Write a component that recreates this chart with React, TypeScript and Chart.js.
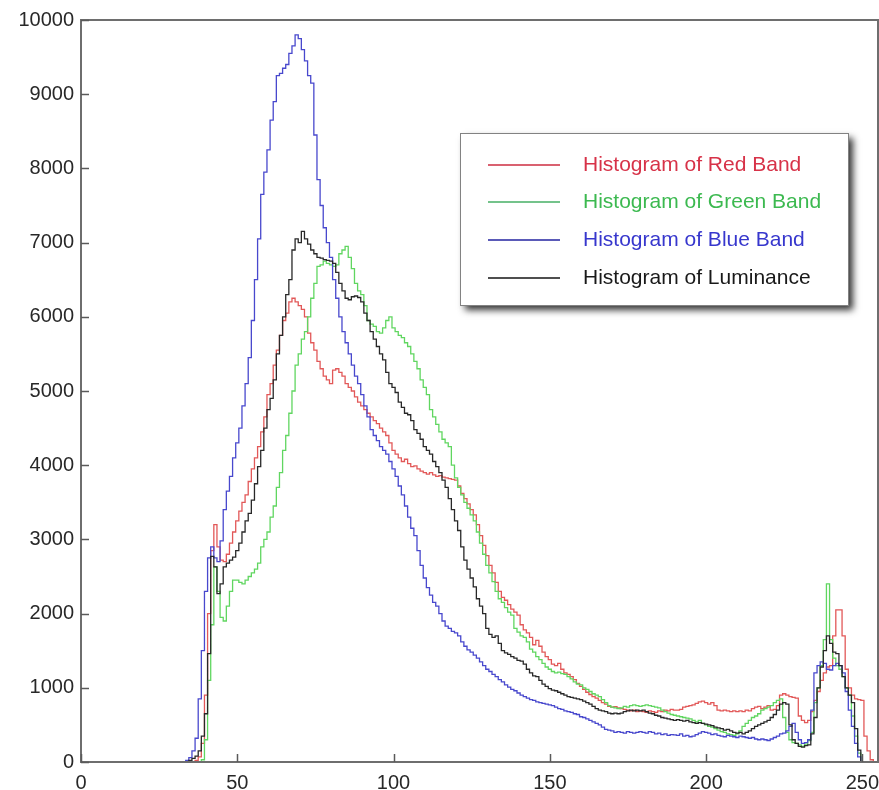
import React, { useEffect, useRef } from 'react';
import { Chart, registerables } from 'chart.js';

Chart.register(...registerables);

// Gray levels (histogram bins)
const grayLevels: number[] = Array.from({ length: 256 }, (_, i) => i);

const xTickValues = [0, 50, 100, 150, 200, 250];
const yTickValues = [0, 1000, 2000, 3000, 4000, 5000, 6000, 7000, 8000, 9000, 10000];

const seriesNames = [
  'Histogram of Red Band',
  'Histogram of Green Band',
  'Histogram of Blue Band',
  'Histogram of Luminance',
];

const redBand = [
  0,0,0,0,0,0,0,0,0,0,0,0,0,0,0,0,
  0,0,0,0,0,0,0,0,0,0,0,0,0,0,0,0,
  0,0,0,0,0,20,70,250,900,2000,2850,3200,2900,2720,2700,2800,
  2950,3100,3250,3380,3500,3600,3780,3950,4100,4250,4450,4650,4950,5100,5350,5550,
  5750,5950,6050,6200,6250,6200,6150,6100,6000,5780,5650,5550,5400,5300,5200,5150,
  5100,5280,5300,5250,5200,5100,5050,5000,4920,4850,4800,4750,4700,4650,4600,4560,
  4500,4450,4400,4300,4200,4150,4100,4050,4080,4020,3980,3990,3950,3920,3900,3880,
  3900,3870,3850,3860,3840,3830,3820,3810,3800,3720,3620,3550,3480,3400,3330,3200,
  3050,2920,2780,2650,2550,2420,2300,2220,2180,2120,2060,2020,1980,1850,1780,1740,
  1680,1580,1640,1560,1480,1420,1380,1320,1300,1330,1250,1200,1180,1150,1110,1060,
  1020,980,940,910,880,860,830,800,780,750,740,745,730,720,710,700,
  690,700,680,690,680,670,690,680,670,690,680,700,690,710,700,700,
  710,740,750,760,770,790,810,820,800,780,800,760,700,690,700,690,
  680,690,680,690,680,700,690,720,740,750,720,740,760,700,710,760,
  900,920,900,880,870,860,620,560,530,560,680,830,950,1100,1200,1280,
  1300,1700,2050,2050,1700,1250,1000,900,850,840,830,350,150,30,0,0,
];

const greenBand = [
  0,0,0,0,0,0,0,0,0,0,0,0,0,0,0,0,
  0,0,0,0,0,0,0,0,0,0,0,0,0,0,0,0,
  0,0,0,0,0,0,0,30,300,1100,1850,2630,2300,1950,1900,2100,
  2300,2450,2450,2420,2400,2450,2500,2550,2600,2680,2900,3000,3100,3300,3450,3700,
  3900,4200,4400,4700,5000,5350,5500,5700,5800,6000,6250,6450,6680,6700,6750,6720,
  6700,6680,6700,6850,6900,6950,6800,6650,6450,6350,6300,6150,5950,5900,5870,5800,
  5780,5850,5950,6000,5850,5800,5750,5720,5650,5600,5500,5400,5300,5150,5050,4950,
  4750,4650,4550,4450,4350,4300,4250,4000,3830,3700,3600,3500,3420,3330,3250,3100,
  2950,2800,2650,2550,2430,2300,2200,2150,2080,2020,1980,1800,1750,1700,1680,1620,
  1520,1480,1420,1380,1330,1280,1250,1220,1200,1210,1190,1180,1150,1120,1080,1050,
  1040,1000,980,950,920,900,880,840,800,760,740,730,720,730,750,740,
  760,770,760,750,760,770,760,750,740,730,700,680,660,640,630,620,
  610,600,590,580,560,540,560,520,500,480,470,450,430,410,400,380,
  370,360,380,420,480,520,560,600,620,650,700,720,740,760,800,830,
  850,600,400,300,260,250,230,210,240,290,400,800,1000,1300,1650,2400,
  1650,1400,1300,1250,1150,1000,900,620,350,120,0,0,0,0,0,0,
];

const blueBand = [
  0,0,0,0,0,0,0,0,0,0,0,0,0,0,0,0,
  0,0,0,0,0,0,0,0,0,0,0,0,0,0,0,0,
  0,0,20,60,150,320,850,1500,2300,2750,2900,2750,2700,2980,3400,3650,
  3850,4100,4300,4500,4800,5100,5450,5950,6500,7050,7650,7950,8250,8650,8900,9250,
  9280,9350,9400,9550,9650,9800,9750,9600,9450,9250,9150,8450,7850,7500,7200,7000,
  6800,6500,6250,6000,5800,5650,5500,5350,5200,5100,4950,4800,4650,4480,4400,4330,
  4250,4200,4150,4050,3950,3850,3720,3600,3450,3300,3150,3050,2850,2650,2480,2350,
  2250,2150,2100,2000,1900,1830,1800,1760,1740,1700,1620,1560,1510,1480,1440,1400,
  1350,1300,1250,1220,1180,1150,1110,1080,1040,1010,980,960,930,900,880,860,
  840,830,810,800,790,780,770,760,740,720,710,690,680,670,650,640,
  610,600,580,560,540,520,500,470,440,430,420,400,410,400,390,410,
  400,390,400,410,400,390,410,400,380,390,370,380,360,370,365,360,
  380,350,360,340,350,370,390,410,400,390,370,380,360,350,340,360,
  350,340,330,350,340,330,320,330,310,300,310,300,290,310,330,350,
  380,390,420,480,520,400,300,250,260,300,700,1200,1300,1350,1330,1250,
  1240,1300,1330,1300,1200,950,700,480,250,70,0,0,0,0,0,0,
];

const luminance = [
  0,0,0,0,0,0,0,0,0,0,0,0,0,0,0,0,
  0,0,0,0,0,0,0,0,0,0,0,0,0,0,0,0,
  0,0,0,20,50,80,150,350,650,1460,2770,2630,2270,2400,2630,2680,
  2720,2760,2850,2950,3100,3250,3350,3530,3750,3980,4200,4500,4750,4900,5150,5500,
  5750,6000,6300,6500,6900,7050,7000,7150,7050,6980,6900,6850,6800,6790,6770,6760,
  6750,6720,6600,6450,6350,6250,6230,6270,6280,6260,6200,6050,5950,5800,5700,5600,
  5500,5420,5250,5100,5050,4980,4850,4780,4700,4680,4600,4480,4430,4350,4250,4200,
  4150,4050,3980,3900,3800,3700,3550,3400,3250,3120,2900,2720,2600,2480,2360,2200,
  2100,2000,1800,1720,1680,1700,1600,1500,1470,1450,1420,1400,1370,1360,1320,1250,
  1200,1160,1150,1100,1050,1020,990,970,960,940,920,900,880,870,860,850,
  840,820,800,780,750,720,700,690,680,660,650,660,650,660,680,690,
  700,690,700,690,700,680,660,650,630,620,600,590,580,570,560,570,
  560,550,560,540,530,520,530,520,510,500,490,470,460,450,430,440,
  420,400,390,400,380,400,420,450,480,500,520,540,560,600,640,700,
  780,800,780,500,300,250,210,200,220,230,380,600,1000,1280,1500,1700,
  1600,1480,1460,1300,1150,1000,900,800,450,160,0,0,0,0,0,0,
];

const lineColors = ['rgb(226,88,88)', 'rgb(96,214,96)', 'rgb(72,72,205)', 'rgb(40,40,40)'];
const legendLineColors = ['rgb(205,45,65)', 'rgb(70,175,100)', 'rgb(35,35,160)', 'rgb(20,20,20)'];
const legendTextColors = ['rgb(215,50,72)', 'rgb(60,185,80)', 'rgb(55,55,205)', 'rgb(25,25,25)'];

const FONT = '"Liberation Sans", Arial, Helvetica, sans-serif';

const framePlugin = {
  id: 'framePlugin',
  afterDraw(chart: any) {
    const { ctx, chartArea, scales } = chart;
    const { left, right, top, bottom } = chartArea;
    ctx.save();
    ctx.strokeStyle = 'rgb(110,110,110)';
    ctx.lineWidth = 2;
    ctx.strokeRect(left, top, right - left, bottom - top);
    ctx.lineWidth = 1.5;
    ctx.strokeStyle = 'rgb(90,90,90)';
    scales.y.ticks.forEach((t: any) => {
      const py = Math.round(scales.y.getPixelForValue(t.value)) + 0.5;
      ctx.beginPath();
      ctx.moveTo(left, py);
      ctx.lineTo(left + 8, py);
      ctx.stroke();
    });
    scales.x.ticks.forEach((t: any) => {
      const px = Math.round(scales.x.getPixelForValue(t.value)) + 0.5;
      ctx.beginPath();
      ctx.moveTo(px, bottom);
      ctx.lineTo(px, bottom - 8);
      ctx.stroke();
    });
    ctx.restore();
  },
};

const legendBoxPlugin = {
  id: 'legendBoxPlugin',
  afterDraw(chart: any) {
    const { ctx } = chart;
    const bx = 460, by = 133, bw = 388, bh = 172;
    ctx.save();
    ctx.shadowColor = 'rgba(0,0,0,0.8)';
    ctx.shadowBlur = 7;
    ctx.shadowOffsetX = 5;
    ctx.shadowOffsetY = 5;
    ctx.fillStyle = '#ffffff';
    ctx.fillRect(bx, by, bw, bh);
    ctx.restore();
    ctx.save();
    ctx.strokeStyle = 'rgb(130,130,130)';
    ctx.lineWidth = 1;
    ctx.strokeRect(bx + 0.5, by + 0.5, bw, bh);
    const rows = [165, 202, 240, 278];
    ctx.font = `21px ${FONT}`;
    ctx.textBaseline = 'middle';
    ctx.textAlign = 'left';
    seriesNames.forEach((name, i) => {
      const ry = rows[i];
      ctx.strokeStyle = legendLineColors[i];
      ctx.lineWidth = 1.6;
      ctx.beginPath();
      ctx.moveTo(488, ry);
      ctx.lineTo(560, ry);
      ctx.stroke();
      ctx.fillStyle = legendTextColors[i];
      ctx.fillText(name, 583, ry);
    });
    ctx.restore();
  },
};

export default function App() {
  const canvasRef = useRef<HTMLCanvasElement | null>(null);

  useEffect(() => {
    if (!canvasRef.current) return;
    const series = [redBand, greenBand, blueBand, luminance];
    const drawOrder = [3, 2, 1, 0];
    const chart = new Chart(canvasRef.current, {
      type: 'line',
      data: {
        datasets: series.map((vals, i) => ({
          label: seriesNames[i],
          data: vals.map((v, k) => ({ x: grayLevels[k], y: v })),
          borderColor: lineColors[i],
          backgroundColor: lineColors[i],
          borderWidth: 1.3,
          pointRadius: 0,
          stepped: 'middle' as const,
          fill: false,
          order: drawOrder[i],
        })),
      },
      options: {
        animation: false,
        responsive: false,
        devicePixelRatio: 1,
        layout: { padding: { top: 20, right: 1, left: 0, bottom: 0 } },
        plugins: {
          legend: { display: false },
          tooltip: { enabled: false },
        },
        scales: {
          x: {
            type: 'linear',
            min: 0,
            max: 255,
            afterBuildTicks: (scale: any) => {
              scale.ticks = xTickValues.map((v) => ({ value: v }));
            },
            afterFit: (scale: any) => {
              scale.height = 28;
              scale.paddingRight = 0;
              scale.paddingLeft = 0;
            },
            grid: { display: false, drawTicks: false },
            border: { display: false },
            ticks: {
              padding: 9,
              maxRotation: 0,
              autoSkip: false,
              color: 'rgb(40,40,40)',
              font: { family: FONT, size: 20 },
              callback: (v: any) => String(v),
            },
          },
          y: {
            type: 'linear',
            min: 0,
            max: 10000,
            afterBuildTicks: (scale: any) => {
              scale.ticks = yTickValues.map((v) => ({ value: v }));
            },
            afterFit: (scale: any) => {
              scale.width = 81;
              scale.paddingTop = 0;
              scale.paddingBottom = 0;
            },
            grid: { display: false, drawTicks: false },
            border: { display: false },
            ticks: {
              padding: 7,
              autoSkip: false,
              color: 'rgb(40,40,40)',
              font: { family: FONT, size: 20 },
              callback: (v: any) => String(v),
            },
          },
        },
      },
      plugins: [framePlugin, legendBoxPlugin],
    });
    return () => chart.destroy();
  }, []);

  return (
    <div style={{ position: 'absolute', left: 0, top: 0, width: 879, height: 790, background: '#ffffff' }}>
      <canvas ref={canvasRef} width={879} height={790} style={{ display: 'block' }} />
    </div>
  );
}
